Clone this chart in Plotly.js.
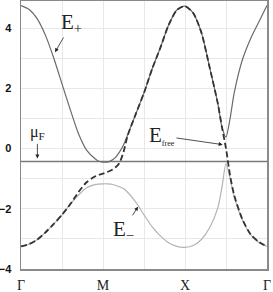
<!DOCTYPE html>
<html>
<head>
<meta charset="utf-8">
<script src="https://cdn.plot.ly/plotly-3.0.1.min.js"></script>
<style>html,body{margin:0;padding:0;background:#fff;}#chart{width:273px;height:292px;}</style>
</head>
<body>
<div id="chart"></div>
<script>
// path coordinate: Γ=0, M=1, X=2, Γ=3
const kPath = [0,0.1,0.2,0.3,0.4,0.5,0.6,0.7,0.8,0.9,0.95,1.0,1.05,1.1,1.15,1.2,1.25,1.3,1.4,1.5,1.6,1.7,1.8,1.9,2.0,2.1,2.2,2.3,2.4,2.45,2.5,2.55,2.6,2.7,2.8,2.9,3.0];
const ePlus = [4.75,4.62,4.3,3.75,3.0,2.15,1.3,0.5,-0.05,-0.33,-0.42,-0.45,-0.45,-0.4,-0.3,-0.12,0.12,0.45,1.15,1.85,2.65,3.35,4.1,4.6,4.73,4.5,3.85,2.7,1.5,0.72,0.38,1.0,1.85,2.95,3.65,4.2,4.75];
const eMinus = [-3.25,-3.17,-3.02,-2.78,-2.5,-2.2,-1.85,-1.55,-1.3,-1.2,-1.18,-1.17,-1.17,-1.18,-1.22,-1.27,-1.33,-1.45,-1.78,-2.2,-2.6,-2.9,-3.13,-3.25,-3.28,-3.22,-3.02,-2.63,-1.97,-1.3,-0.5,-1.0,-1.6,-2.37,-2.86,-3.12,-3.25];
const eFree = [-3.25,-3.17,-3.02,-2.78,-2.5,-2.2,-1.85,-1.45,-1.12,-0.93,-0.87,-0.83,-0.78,-0.72,-0.63,-0.48,-0.12,0.42,1.15,1.85,2.65,3.35,4.1,4.6,4.73,4.5,3.85,2.7,1.5,0.72,0.0,-0.9,-1.55,-2.35,-2.85,-3.1,-3.25];
const fermiX = [0,3];
const fermiY = [-0.43,-0.43];
const tickPos = [0,1,2,3];
const tickText = ['Γ','M','X','Γ'];
const yTicks = [-4,-2,0,2,4];

const traces = [
  {x: fermiX, y: fermiY, mode:'lines', line:{color:'#7a7a7a', width:1.6}, hoverinfo:'skip'},
  {x: kPath, y: eMinus, mode:'lines', line:{color:'#b4b4b4', width:1.2, shape:'spline', smoothing:0.7}},
  {x: kPath, y: ePlus, mode:'lines', line:{color:'#6a6a6a', width:1.2, shape:'spline', smoothing:0.7}},
  {x: kPath, y: eFree, mode:'lines', line:{color:'#333', width:1.8, dash:'6px,3px', shape:'spline', smoothing:0.7}}
];

const serif = 'Liberation Serif, Times New Roman, serif';
const label = (text, size, cx, cy, hx, hy) => ({
  x:hx, y:hy, ax:cx, ay:cy, xref:'x', yref:'y', axref:'x', ayref:'y',
  text:text, showarrow:true, arrowhead:2, arrowsize:1, arrowwidth:0.8, arrowcolor:'#222',
  font:{family:serif, size:size, color:'#222'}
});

const layout = {
  width:273, height:292,
  margin:{l:21, r:6, t:1, b:23},
  paper_bgcolor:'#fff', plot_bgcolor:'#fff',
  showlegend:false,
  xaxis:{range:[0,3], tickvals:tickPos, ticktext:tickText, showgrid:true, gridcolor:'#e8e8e8', gridwidth:1,
         minor:{dtick:0.5, showgrid:true, gridcolor:'#e8e8e8'},
         zeroline:false, showline:true, mirror:true, linecolor:'#8a8a8a', linewidth:1.5,
         tickfont:{family:serif, size:14, color:'#222'}, ticks:'', ticklabelstandoff:3},
  yaxis:{range:[-4,4.9], tickvals:yTicks, showgrid:true, gridcolor:'#e8e8e8', gridwidth:1,
         minor:{dtick:1, showgrid:true, gridcolor:'#e8e8e8'},
         zeroline:false, showline:true, mirror:true, linecolor:'#8a8a8a', linewidth:1.5,
         tickfont:{family:'Liberation Sans, Arial, sans-serif', size:11, color:'#111', weight:'bold'}, ticks:'', ticklabelstandoff:6},
  annotations:[
    label('E<sub>+</sub>', 21, 0.62, 4.17, 0.415, 3.2),
    label('E<sub>−</sub>', 21, 1.25, -2.7, 1.427, -1.93),
    label('E<sub><span style="font-size:8px">free</span></sub>', 21, 1.72, 0.42, 2.46, 0.13),
    label('μ<sub>F</sub>', 16, 0.2, 0.52, 0.2, -0.33)
  ]
};

Plotly.newPlot('chart', traces, layout, {staticPlot:true, displayModeBar:false});
</script>
</body>
</html>
